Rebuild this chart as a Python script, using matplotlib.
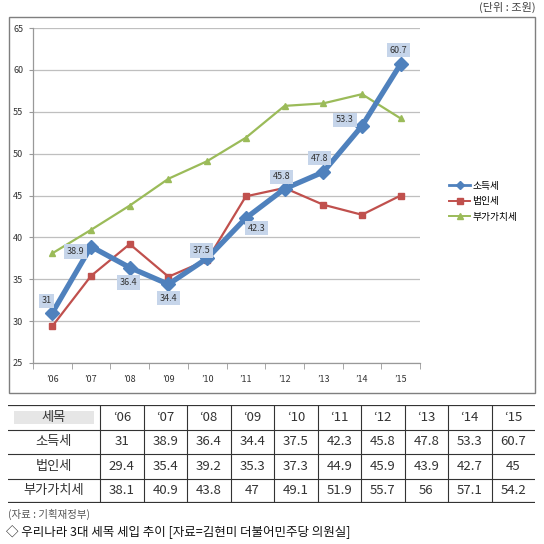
import numpy as np
import matplotlib
matplotlib.use('Agg')
import matplotlib.pyplot as plt
from matplotlib.patches import Rectangle

plt.rcParams['font.family'] = ['Noto Sans CJK KR', 'DejaVu Sans']

years = ['06', '07', '08', '09', '10', '11', '12', '13', '14', '15']
series_names = ['소득세', '법인세', '부가가치세']
income_tax = [31, 38.9, 36.4, 34.4, 37.5, 42.3, 45.8, 47.8, 53.3, 60.7]
corp_tax = [29.4, 35.4, 39.2, 35.3, 37.3, 44.9, 45.9, 43.9, 42.7, 45]
vat = [38.1, 40.9, 43.8, 47, 49.1, 51.9, 55.7, 56, 57.1, 54.2]
income_labels = ['31', '38.9', '36.4', '34.4', '37.5', '42.3', '45.8', '47.8', '53.3', '60.7']
table_rows = [
    ['31', '38.9', '36.4', '34.4', '37.5', '42.3', '45.8', '47.8', '53.3', '60.7'],
    ['29.4', '35.4', '39.2', '35.3', '37.3', '44.9', '45.9', '43.9', '42.7', '45'],
    ['38.1', '40.9', '43.8', '47', '49.1', '51.9', '55.7', '56', '57.1', '54.2'],
]
y_ticks = [25, 30, 35, 40, 45, 50, 55, 60, 65]

W = H = 544
fig = plt.figure(figsize=(5.44, 5.44), dpi=100)

def fx(px):
    return px / W

def fy(py):
    return (H - py) / H

# chart frame
fig.patches.append(Rectangle((fx(9), fy(393)), fx(535) - fx(9), fy(17) - fy(393),
                             transform=fig.transFigure, fill=False,
                             edgecolor='#7f7f7f', linewidth=1.0))
fig.text(fx(536), fy(7), '(단위 : 조원)', ha='right', va='center',
         fontsize=8, color='#444444')

ax = fig.add_axes([fx(33), fy(363), fx(420) - fx(33), fy(28) - fy(363)])
x = np.arange(len(years))

ax.plot(x, vat, color='#9bbb59', linewidth=1.6, marker='^', markersize=5,
        label=series_names[2], zorder=3)
ax.plot(x, corp_tax, color='#c0504d', linewidth=1.6, marker='s', markersize=5,
        label=series_names[1], zorder=4)
ax.plot(x, income_tax, color='#4f81bd', linewidth=3.8, marker='D', markersize=7,
        label=series_names[0], zorder=5)

offsets = [(-6, 12), (-16, -5), (-1, -15), (0, -14), (-6, 8),
           (11, -10), (-3, 12), (-4, 14), (-17, 6), (-2, 14)]
for xi, yi, lab, off in zip(x, income_tax, income_labels, offsets):
    ax.annotate(lab, (xi, yi), xytext=off, textcoords='offset pixels',
                ha='center', va='center', fontsize=6.5, color='#333333', zorder=6,
                bbox=dict(boxstyle='square,pad=0.3', facecolor='#c6d5ea', edgecolor='none'))

ax.set_xlim(-0.5, len(years) - 0.5)
ax.set_ylim(25, 65)
ax.set_yticks(y_ticks)
ax.set_yticklabels([str(v) for v in y_ticks], fontsize=6.5, color='#333333')
ax.set_xticks(x)
ax.set_xticklabels(['\u2019' + y for y in years], fontsize=6.5, color='#333333')
ax.set_xticks(np.arange(-0.5, len(years)), minor=True)
ax.tick_params(axis='x', which='major', length=0, pad=9)
ax.tick_params(axis='x', which='minor', length=4, color='#999999')
ax.tick_params(axis='y', length=3, color='#999999', pad=4)
ax.grid(axis='y', color='#bfbfbf', linewidth=0.9)
ax.set_axisbelow(True)
for s in ['top', 'right']:
    ax.spines[s].set_visible(False)
for s in ['left', 'bottom']:
    ax.spines[s].set_color('#999999')
    ax.spines[s].set_linewidth(0.9)

handles, labels = ax.get_legend_handles_labels()
order = [2, 1, 0]
leg = fig.legend([handles[i] for i in order], [labels[i] for i in order],
                 loc='upper left', bbox_to_anchor=(fx(445), fy(177)),
                 frameon=False, fontsize=7, handlelength=2.2, handletextpad=0.2,
                 labelspacing=0.55, borderaxespad=0)
for line in leg.get_lines():
    line.set_markersize(4)
    line.set_linewidth(2 if line.get_color() == '#4f81bd' else 1.4)

# table
tx0, tx1, ty0, ty1 = 8, 535, 405, 503
tax = fig.add_axes([fx(tx0), fy(ty1), fx(tx1) - fx(tx0), fy(ty0) - fy(ty1)])
tax.set_xlim(tx0, tx1)
tax.set_ylim(ty1, ty0)
tax.axis('off')
col_edges = [tx0, 100] + [100 + (tx1 - 100) * (i + 1) / 10 for i in range(10)]
row_edges = [405, 430, 454, 479, 503]
for i, yy in enumerate(row_edges):
    lw = 1.6 if i in (0, len(row_edges) - 1) else 0.8
    tax.plot([tx0, tx1], [yy, yy], color='#333333', linewidth=lw)
for xx in col_edges[1:-1]:
    tax.plot([xx, xx], [405, 503], color='#333333', linewidth=0.8)
tax.add_patch(Rectangle((14, 411), 80, 13, facecolor='#e6e6e6', edgecolor='none'))

header = ['세목'] + ['\u2018' + y for y in years]
row_names = series_names
fs = 9.5
for j in range(11):
    cx = (col_edges[j] + col_edges[j + 1]) / 2
    cy = (row_edges[0] + row_edges[1]) / 2
    tax.text(cx, cy, header[j], ha='center', va='center', fontsize=fs, color='#333333')
for r in range(3):
    cy = (row_edges[r + 1] + row_edges[r + 2]) / 2
    tax.text((col_edges[0] + col_edges[1]) / 2, cy, row_names[r], ha='center', va='center',
             fontsize=fs, color='#333333')
    for j in range(10):
        cx = (col_edges[j + 1] + col_edges[j + 2]) / 2
        tax.text(cx, cy, table_rows[r][j], ha='center', va='center', fontsize=fs,
                 color='#333333')

fig.text(fx(8), fy(514), '(자료 : 기획재정부)', ha='left', va='center',
         fontsize=7.5, color='#555555')
fig.text(fx(6), fy(532), '◇ 우리나라 3대 세목 세입 추이 [자료=김현미 더불어민주당 의원실]',
         ha='left', va='center', fontsize=9, color='#111111')

fig.savefig('out.png', dpi=100)
